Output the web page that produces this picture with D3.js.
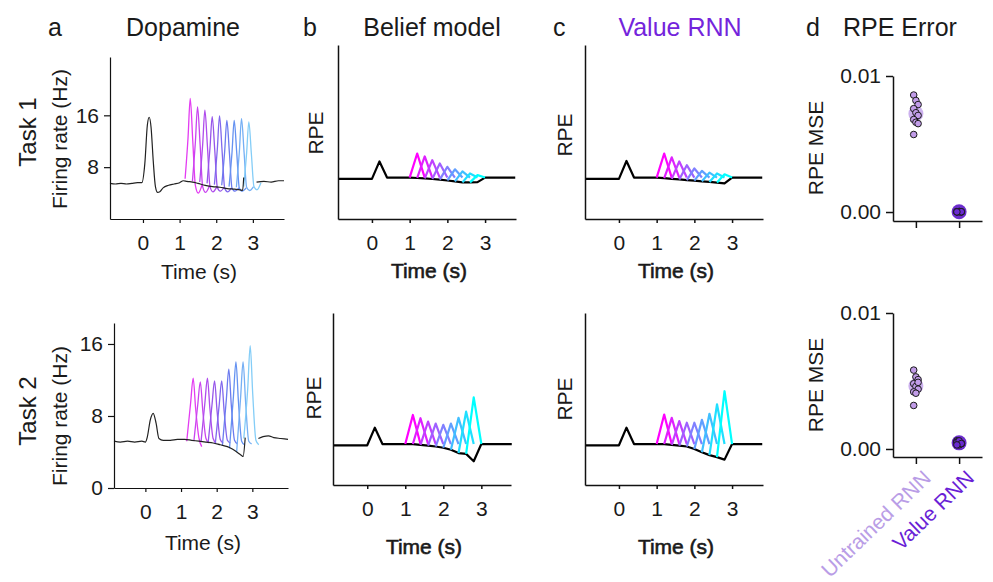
<!DOCTYPE html>
<html><head><meta charset="utf-8">
<script src="https://cdn.jsdelivr.net/npm/d3@7"></script>
<style>
body{margin:0;background:#fff;}
text{font-family:"Liberation Sans",Arial,Helvetica,sans-serif;fill:#1a1a1a;}
</style></head><body>
<script>
// ---------------- DATA ----------------
const rewardTimes = [1.2, 1.4, 1.6, 1.8, 2.0, 2.2, 2.4, 2.6, 2.8];
const timeTicks = [0, 1, 2, 3];

// Panel a: dopamine firing rate (Hz)
const dopaBlack1 = [[-0.9,5.5],[-0.75,5.4],[-0.6,5.5],[-0.45,5.4],[-0.3,5.5],[-0.15,5.6],[-0.03,5.6],[0.05,8.5],[0.12,14.5],[0.17,15.7],[0.22,14.2],[0.28,9],[0.34,5],[0.4,4.1],[0.46,4.2],[0.55,4.8],[0.7,5.2],[0.85,5.4],[1.0,5.6],[1.1,5.9],[1.2,5.8],[1.35,5.7],[1.5,5.5],[1.7,5.2],[1.9,5.0],[2.1,4.9],[2.3,4.7],[2.5,4.6],[2.65,4.5],[2.72,4.4],[2.75,6.4]];
const dopaTail1 = [[3.1,5.7],[3.3,5.8],[3.5,5.7],[3.7,5.9],[3.85,5.9]];
const dopaOffsets1 = [-0.05, 0.03, 0.09, 0.16, 0.23, 0.31, 0.42];
const dopaTraces1 = [
  [6.2, 12.5, 18.6, 12.0, 5.2, 4.0, 5.4],
  [5.8, 11.8, 17.3, 11.5, 5.0, 4.1, 5.2],
  [5.7, 11.5, 16.8, 11.2, 5.0, 4.2, 5.0],
  [5.5, 11.0, 15.8, 10.6, 4.9, 4.3, 4.9],
  [5.3, 10.8, 15.9, 10.5, 4.8, 4.2, 4.8],
  [5.2, 10.4, 15.2, 10.2, 4.8, 4.3, 4.8],
  [5.0, 10.2, 15.2, 10.2, 4.8, 4.3, 4.8],
  [4.9, 10.3, 15.5, 10.3, 4.9, 4.4, 5.0],
  [5.0, 10.2, 15.0, 10.0, 5.0, 4.5, 5.6]
];
const dopaBlack2 = [[-0.88,5.2],[-0.7,5.1],[-0.5,5.2],[-0.3,5.1],[-0.1,5.2],[0.0,5.1],[0.05,5.6],[0.14,7.6],[0.22,8.3],[0.3,7.2],[0.38,5.5],[0.5,5.3],[0.7,5.3],[0.9,5.4],[1.1,5.4],[1.3,5.3],[1.5,5.2],[1.7,5.1],[1.9,5.0],[2.1,4.8],[2.3,4.6],[2.45,4.3],[2.6,3.9],[2.7,3.6],[2.74,3.5],[2.8,5.6]];
const dopaTail2 = [[3.17,5.5],[3.3,5.7],[3.45,5.8],[3.6,5.6],[3.8,5.5],[4.0,5.4]];
const dopaOffsets2 = [-0.04, 0.07, 0.14, 0.21, 0.3, 0.38];
const dopaTraces2 = [
  [5.2, 9.5, 12.2, 8.8, 5.6, 4.6],
  [5.2, 9.3, 11.8, 8.6, 5.5, 5.0],
  [5.1, 9.5, 12.2, 8.8, 5.5, 5.0],
  [5.0, 9.3, 11.9, 8.6, 5.4, 5.0],
  [4.9, 9.2, 11.9, 8.5, 5.3, 5.0],
  [4.7, 9.8, 13.2, 9.2, 5.3, 4.9],
  [4.4, 10.2, 14.0, 9.6, 5.2, 4.8],
  [4.0, 10.0, 14.0, 9.6, 5.2, 4.9],
  [5.5, 11.0, 15.8, 10.5, 5.3, 4.8]
];

// Panels b, c: model RPE (arbitrary units)
const modelTimes = [-0.9, 0, 0.2, 0.4, 1.0, 1.2, 1.4, 1.6, 1.8, 2.0, 2.2, 2.4, 2.6, 2.8, 3.0, 3.8];
const beliefBlack1 = [-0.03, -0.03, 0.39, 0, 0, -0.01, -0.02, -0.035, -0.05, -0.07, -0.09, -0.115, -0.115, -0.11, 0, 0];
const beliefPeaks1 = [0.58, 0.51, 0.42, 0.34, 0.26, 0.20, 0.15, 0.10, 0.06];
const beliefAfter1 = [0, 0, 0, 0, 0, 0, 0, 0, 0];
const beliefBlack2 = [-0.03, -0.03, 0.40, 0, 0, 0, -0.02, -0.04, -0.06, -0.09, -0.14, -0.22, -0.24, -0.42, 0, 0];
const beliefPeaks2 = [0.71, 0.63, 0.55, 0.50, 0.47, 0.50, 0.64, 0.79, 1.14];
const beliefAfter2 = [0, 0, 0, 0, 0, 0, 0, 0, 0];
const rnnBlack1 = [-0.03, -0.03, 0.40, 0, 0, -0.015, -0.03, -0.045, -0.06, -0.075, -0.09, -0.105, -0.12, -0.14, 0, 0];
const rnnPeaks1 = [0.58, 0.49, 0.39, 0.30, 0.22, 0.16, 0.12, 0.10, 0.08];
const rnnAfter1 = [0, 0, 0, 0, 0, 0, 0, 0, 0];
const rnnBlack2 = [-0.03, -0.03, 0.40, 0, 0, 0, -0.02, -0.04, -0.06, -0.12, -0.20, -0.27, -0.32, -0.38, 0, 0];
const rnnPeaks2 = [0.72, 0.64, 0.56, 0.52, 0.52, 0.59, 0.74, 0.97, 1.29];
const rnnAfter2 = [0, 0, 0, 0, 0, 0, 0, 0, 0];

// Panel d: RPE MSE
const categories = ["Untrained RNN", "Value RNN"];
const mseUntrained1 = [0.0086, 0.0082, 0.0079, 0.0076, 0.0073, 0.0071, 0.0068, 0.0066, 0.0065, 0.0057];
const mseValue1 = [0.00002, 0.00003, 0.00001, 0.00002, 0.00004, 0.00001, 0.00002, 0.00003, 0.00002, 0.00001];
const mseUntrained2 = [0.0058, 0.0053, 0.0051, 0.0048, 0.0046, 0.0044, 0.0042, 0.0041, 0.0049, 0.0032];
const mseValue2 = [0.0006, 0.0005, 0.0004, 0.0005, 0.0003, 0.0004, 0.0005, 0.0006, 0.0004, 0.0003];
const mseTicks = [0, 0.01];

// ---------------- DRAW ----------------
const W = 993, H = 582;
const svg = d3.select("body").append("svg").attr("width", W).attr("height", H);
const FS = 21;
const coolColor = i => { const t = i / (rewardTimes.length - 1); return d3.rgb(255 * (1 - t), 255 * t, 255).toString(); };
const dopaColor = d3.scaleLinear().domain([0, 0.35, 0.7, 1]).range(["#e33cf2", "#9a52ea", "#5f86f0", "#84cdf7"]);

function styleAxis(g, sw) {
  g.selectAll("path.domain").attr("stroke", "#111").attr("stroke-width", sw);
  g.selectAll(".tick line").attr("stroke", "#111").attr("stroke-width", sw);
  g.selectAll(".tick text").attr("font-size", FS).attr("font-family", null).attr("fill", "#1a1a1a");
}
function xAxis(g, x, y0, withLabel, labelY, semi, sw) {
  const ax = g.append("g").attr("transform", `translate(0,${y0})`)
    .call(d3.axisBottom(x).tickValues(timeTicks).tickSize(4).tickPadding(12).tickSizeOuter(0).tickFormat(d3.format("d")));
  styleAxis(ax, sw);
  if (withLabel) {
    const r = x.range();
    const t = g.append("text").attr("x", (r[0] + r[1]) / 2 + 2).attr("y", labelY).attr("text-anchor", "middle")
      .attr("font-size", FS).text("Time (s)");
    if (semi) t.style("stroke", "#1a1a1a").style("stroke-width", 0.6);
  }
}
function vLabel(g, text, x, y, size) {
  g.append("text").attr("transform", `translate(${x},${y}) rotate(-90)`).attr("text-anchor", "middle")
    .attr("font-size", size || FS).text(text);
}

function dopaPanel(cfg) {
  const g = svg.append("g");
  const x = d3.scaleLinear().domain(cfg.xDomain).range(cfg.xRange);
  const y = d3.scaleLinear().domain(cfg.yDomain).range(cfg.yRange);
  const line = d3.line().x(d => x(d[0])).y(d => y(d[1])).curve(d3.curveMonotoneX);
  rewardTimes.forEach((r, i) => {
    const pts = cfg.offsets.map((o, j) => [r + o, cfg.traces[i][j]]);
    g.append("path").attr("d", line(pts)).attr("fill", "none")
      .attr("stroke", dopaColor(i / (rewardTimes.length - 1))).attr("stroke-width", 1.3);
  });
  [cfg.black, cfg.tail].forEach(s => g.append("path").attr("d", line(s)).attr("fill", "none")
    .attr("stroke", "#222").attr("stroke-width", 1.2));
  const ay = g.append("g").attr("transform", `translate(${cfg.xRange[0]},0)`)
    .call(d3.axisLeft(y).tickValues(cfg.yTicks).tickSize(6).tickPadding(5).tickSizeOuter(0));
  styleAxis(ay, 1.2);
  xAxis(g, x, cfg.yRange[0], true, cfg.timeY, false, 1.2);
  vLabel(g, "Firing rate (Hz)", 67, cfg.frY);
  vLabel(g, cfg.task, 36, cfg.taskY, 24);
}

function modelPanel(cfg) {
  const g = svg.append("g");
  const x = d3.scaleLinear().domain(cfg.xDomain).range(cfg.xRange);
  const y = d3.scaleLinear().domain([-1, 3.2]).range(cfg.yRange);
  const line = d3.line().x(d => x(d[0])).y(d => y(d[1]));
  const blackPts = modelTimes.map((t, i) => [t, cfg.black[i]]);
  g.append("path").attr("d", line(blackPts)).attr("fill", "none").attr("stroke", "#000")
    .attr("stroke-width", 2.2).attr("stroke-linejoin", "round");
  rewardTimes.forEach((r, i) => {
    const prevIdx = modelTimes.findIndex(t => Math.abs(t - (r - 0.2)) < 1e-6);
    const pts = [[modelTimes[prevIdx], cfg.black[prevIdx]], [r, cfg.peaks[i]], [r + 0.2, cfg.after[i]]];
    g.append("path").attr("d", line(pts)).attr("fill", "none").attr("stroke", coolColor(i))
      .attr("stroke-width", 2.2).attr("stroke-linejoin", "round");
  });
  const ay = g.append("g").attr("transform", `translate(${cfg.xRange[0]},0)`)
    .call(d3.axisLeft(y).tickValues([]).tickSizeOuter(0));
  styleAxis(ay, 1.5);
  xAxis(g, x, cfg.yRange[0], cfg.showTime, cfg.timeY, true, 1.5);
  vLabel(g, "RPE", cfg.rpeX, cfg.rpeY);
}

function msePanel(cfg) {
  const g = svg.append("g");
  const x = d3.scalePoint().domain(categories).range([893, 982]).padding(0.53);
  const y = d3.scaleLinear().domain(cfg.yDomain).range(cfg.yRange);
  const ay = g.append("g").attr("transform", `translate(893,0)`)
    .call(d3.axisLeft(y).tickValues(mseTicks).tickSize(7).tickPadding(5).tickSizeOuter(0).tickFormat(d3.format(".2f")));
  styleAxis(ay, 1.5);
  const ax = g.append("g").attr("transform", `translate(0,${cfg.yRange[0]})`)
    .call(d3.axisBottom(x).tickSize(7).tickSizeOuter(0).tickFormat(""));
  styleAxis(ax, 1.5);
  const groups = [
    { cat: categories[0], vals: cfg.untrained, mean: "#c6a8ec", dot: "#c19ce8" },
    { cat: categories[1], vals: cfg.value, mean: "#5c16c8", dot: "#6a2ad2" }
  ];
  groups.forEach(gr => {
    g.append("circle").attr("cx", x(gr.cat)).attr("cy", y(d3.mean(gr.vals))).attr("r", 7.5)
      .attr("fill", gr.mean).attr("opacity", 0.9);
    gr.vals.forEach((v, i) => {
      g.append("circle").attr("cx", x(gr.cat) + ((i % 3) - 1) * 2.2).attr("cy", y(v)).attr("r", 3.3)
        .attr("fill", gr.dot).attr("stroke", "#1a1a1a").attr("stroke-width", 1);
    });
  });
  vLabel(g, "RPE MSE", 823, cfg.labelY);
  if (cfg.catLabels) {
    const cols = ["#b99de6", "#6a1fd6"];
    categories.forEach((c, i) => {
      g.append("text").attr("transform", `translate(${x(c) + 6},${cfg.yRange[0] + 12}) rotate(-44)`)
        .attr("text-anchor", "end").attr("dy", "0.7em").attr("font-size", FS).style("fill", cols[i]).text(c);
    });
  }
}

// Titles
function title(txt, x, anchor, color) {
  svg.append("text").attr("x", x).attr("y", 36).attr("text-anchor", anchor).attr("font-size", 25)
    .style("fill", color || "#1a1a1a").text(txt);
}
title("a", 48, "start"); title("Dopamine", 183, "middle");
title("b", 303, "start"); title("Belief model", 432, "middle");
title("c", 553, "start"); title("Value RNN", 680, "middle", "#7424dc");
title("d", 806, "start"); title("RPE Error", 843, "start");

dopaPanel({ xDomain: [-0.9, 3.85], xRange: [110, 284], yDomain: [0, 25], yRange: [219, 57], yTicks: [8, 16],
  black: dopaBlack1, tail: dopaTail1, offsets: dopaOffsets1, traces: dopaTraces1, timeY: 279, frY: 139, task: "Task 1", taskY: 132 });
dopaPanel({ xDomain: [-0.88, 4.0], xRange: [114, 288], yDomain: [0, 18.33], yRange: [488, 323], yTicks: [0, 8, 16],
  black: dopaBlack2, tail: dopaTail2, offsets: dopaOffsets2, traces: dopaTraces2, timeY: 550, frY: 416, task: "Task 2", taskY: 411 });

modelPanel({ xDomain: [-0.9, 3.82], xRange: [338, 516], yRange: [219, 45], black: beliefBlack1, peaks: beliefPeaks1, after: beliefAfter1,
  showTime: true, timeY: 278, rpeX: 323, rpeY: 133 });
modelPanel({ xDomain: [-0.9, 3.78], xRange: [333, 511], yRange: [485, 313], black: beliefBlack2, peaks: beliefPeaks2, after: beliefAfter2,
  showTime: true, timeY: 554, rpeX: 321, rpeY: 398 });
modelPanel({ xDomain: [-0.9, 3.82], xRange: [585, 763], yRange: [219, 45], black: rnnBlack1, peaks: rnnPeaks1, after: rnnAfter1,
  showTime: true, timeY: 278, rpeX: 572, rpeY: 135 });
modelPanel({ xDomain: [-0.9, 3.82], xRange: [585, 763], yRange: [485, 313], black: rnnBlack2, peaks: rnnPeaks2, after: rnnAfter2,
  showTime: true, timeY: 554, rpeX: 572, rpeY: 399 });

msePanel({ yDomain: [-0.00066, 0.01], yRange: [221, 76], untrained: mseUntrained1, value: mseValue1, labelY: 148, catLabels: false });
msePanel({ yDomain: [-0.00059, 0.01], yRange: [457, 313], untrained: mseUntrained2, value: mseValue2, labelY: 385, catLabels: true });
</script></body></html>
